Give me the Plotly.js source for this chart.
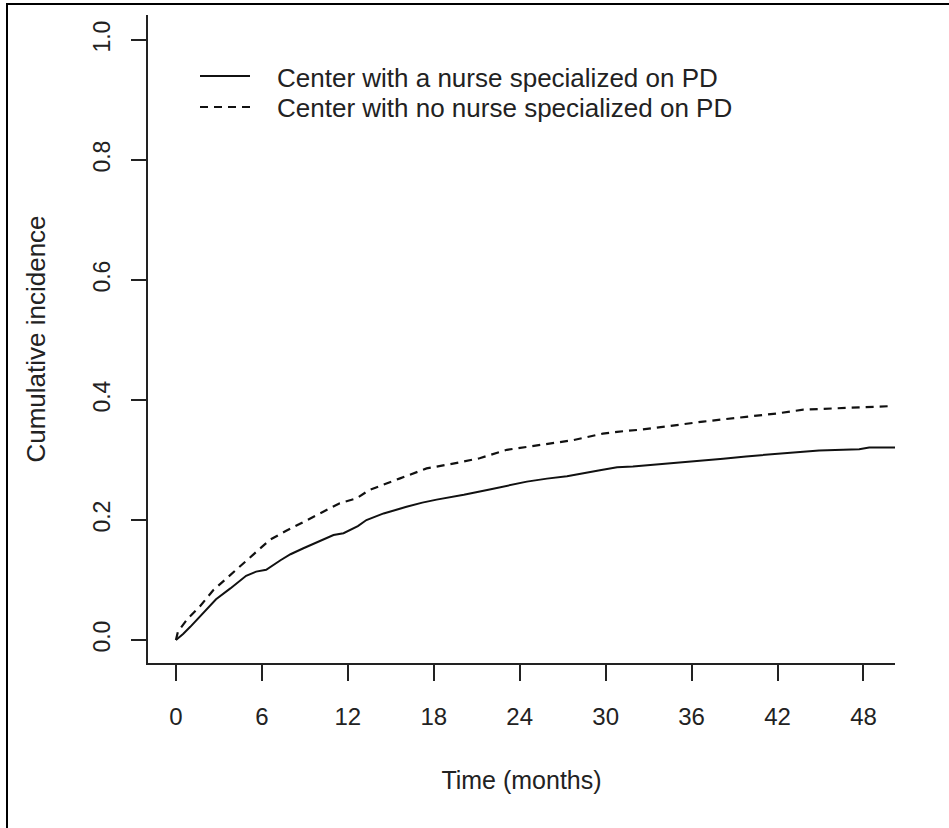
<!DOCTYPE html>
<html>
<head>
<meta charset="utf-8">
<script src="https://cdn.plot.ly/plotly-3.0.1.min.js"></script>
<style>html,body{margin:0;padding:0;background:#fff;}#chart{width:949px;height:828px;}</style>
</head>
<body>
<div id="chart"></div>
<script>
// Data (time in months, cumulative incidence)
const nurseTime = [0, 0.5, 1.0, 1.5, 2.1, 2.8, 3.8, 4.9, 5.6, 6.3, 7.3, 8.0, 8.9, 10.0, 11.0, 11.7, 12.7, 13.3, 14.5, 16.1, 17.2, 18.2, 20.1, 21.9, 23.0, 24.5, 25.9, 27.3, 29.6, 30.8, 31.9, 34.0, 36.6, 38.2, 39.8, 42.1, 44.9, 47.7, 48.4, 50.2];
const nurseCI   = [0, 0.010, 0.022, 0.035, 0.050, 0.068, 0.086, 0.107, 0.114, 0.117, 0.133, 0.143, 0.153, 0.164, 0.175, 0.178, 0.190, 0.200, 0.211, 0.222, 0.229, 0.234, 0.242, 0.251, 0.257, 0.264, 0.269, 0.273, 0.283, 0.288, 0.289, 0.293, 0.299, 0.302, 0.306, 0.310, 0.316, 0.318, 0.321, 0.321];
const noNurseTime = [0, 0.14, 0.8, 1.67, 2.6, 3.4, 4.2, 5.4, 6.56, 7.7, 8.9, 10.75, 11.44, 12.6, 13.5, 15.6, 17.5, 19.35, 21.2, 23.1, 25.4, 27.7, 29.8, 30.8, 32.6, 34.5, 36.8, 39.8, 42.1, 43.8, 45.6, 48.0, 50.1];
const noNurseCI   = [0, 0.014, 0.035, 0.056, 0.083, 0.100, 0.117, 0.142, 0.167, 0.182, 0.197, 0.219, 0.228, 0.236, 0.250, 0.269, 0.286, 0.294, 0.303, 0.317, 0.325, 0.333, 0.344, 0.347, 0.351, 0.357, 0.364, 0.372, 0.378, 0.384, 0.386, 0.388, 0.390];
const seriesNames = ["Center with a nurse specialized on PD", "Center with no nurse specialized on PD"];
const xTicks = [0, 6, 12, 18, 24, 30, 36, 42, 48];
const yTicks = [0.0, 0.2, 0.4, 0.6, 0.8, 1.0];
const yTickText = ["0.0", "0.2", "0.4", "0.6", "0.8", "1.0"];

const traces = [
  {x: nurseTime, y: nurseCI, name: seriesNames[0], type: 'scatter', mode: 'lines',
   line: {color: '#111', width: 2}},
  {x: noNurseTime, y: noNurseCI, name: seriesNames[1], type: 'scatter', mode: 'lines',
   line: {color: '#111', width: 2.2, dash: '8px,6px'}}
];

const regular = '"Liberation Sans", Arial, sans-serif';

// plot area: x 148..895 px, y 15..663 px
const px = v => (v - 148) / 747;
const py = v => (663 - v) / 648;

const layout = {
  width: 949, height: 828,
  margin: {l: 148, r: 54, t: 15, b: 165},
  paper_bgcolor: '#fff', plot_bgcolor: '#fff',
  showlegend: false,
  xaxis: {
    range: [-1.95, 50.2], tickvals: xTicks, ticktext: xTicks.map(String),
    showgrid: false, zeroline: false, showline: true, linecolor: '#222', linewidth: 2,
    ticks: 'outside', ticklen: 16, tickwidth: 2, tickcolor: '#222', ticklabelstandoff: 15,
    tickfont: {family: regular, size: 24, color: '#222'},
    title: {text: 'Time (months)', font: {family: regular, size: 25, color: '#222'}, standoff: 43}
  },
  yaxis: {
    range: [-0.0383, 1.0417], tickvals: yTicks, ticktext: yTickText,
    showgrid: false, zeroline: false, showline: true, linecolor: '#222', linewidth: 2,
    ticks: 'outside', ticklen: 15, tickwidth: 2, tickcolor: '#222', tickangle: -90, ticklabelstandoff: 12,
    tickfont: {family: regular, size: 23, color: '#222'},
    title: {text: 'Cumulative incidence', font: {family: regular, size: 26, color: '#222'}, standoff: 36}
  },
  shapes: [
    // outer frame of the figure (top and left edges visible)
    {type: 'rect', xref: 'paper', yref: 'paper', x0: px(7), x1: 1.1, y0: -0.3, y1: py(4),
     line: {color: '#000', width: 2}, fillcolor: 'rgba(0,0,0,0)', layer: 'above'},
    // legend keys
    {type: 'line', xref: 'paper', yref: 'paper', x0: px(200), x1: px(250),
     y0: py(76), y1: py(76), line: {color: '#111', width: 2}},
    {type: 'line', xref: 'paper', yref: 'paper', x0: px(200), x1: px(250),
     y0: py(107), y1: py(107), line: {color: '#111', width: 2.2, dash: '8px,6px'}}
  ],
  annotations: [
    {xref: 'paper', yref: 'paper', x: px(275), y: py(78), xanchor: 'left', yanchor: 'middle',
     text: seriesNames[0], showarrow: false, font: {family: regular, size: 26, color: '#222'}},
    {xref: 'paper', yref: 'paper', x: px(275), y: py(108), xanchor: 'left', yanchor: 'middle',
     text: seriesNames[1], showarrow: false, font: {family: regular, size: 26, color: '#222'}}
  ]
};

Plotly.newPlot('chart', traces, layout, {displayModeBar: false, staticPlot: true});
</script>
</body>
</html>
